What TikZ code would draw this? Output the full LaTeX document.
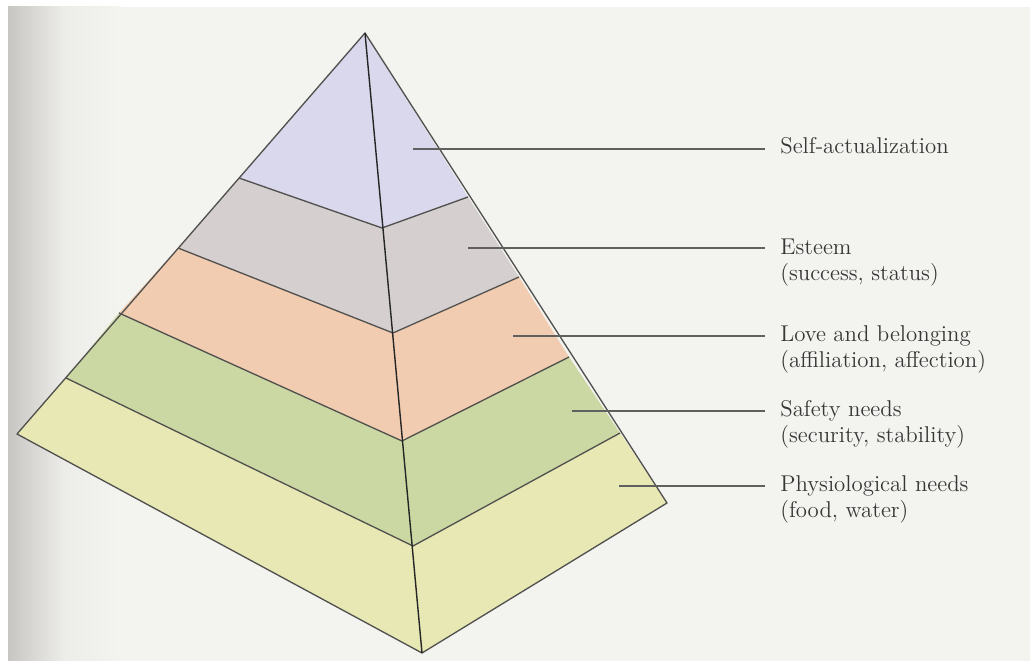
\documentclass[tikz,border=0pt]{standalone}
\usepackage[dvipsnames]{xcolor}
\usepackage{tikz}
\usetikzlibrary{calc}
\usetikzlibrary{positioning}

\definecolor{pageBg}{RGB}{243,243,240}
\definecolor{pageEdge}{RGB}{200,198,195}
\definecolor{lvlSelf}{RGB}{217,216,236}
\definecolor{lvlEsteem}{RGB}{214,207,207}
\definecolor{lvlLove}{RGB}{241,204,176}
\definecolor{lvlSafety}{RGB}{204,216,163}
\definecolor{lvlPhysio}{RGB}{232,232,180}
\definecolor{edgeGray}{RGB}{80,80,78}
\definecolor{textGray}{RGB}{55,55,55}

\tikzset{
  pyrEdge/.style={draw=edgeGray, line width=0.75pt, line join=round},
  leaderLine/.style={draw=gray!75!black, line width=0.85pt, shorten >=0.3cm},
  levelLabel/.style={
    anchor=base west, align=left, inner sep=0,
    font=\fontsize{13}{15.3}\selectfont, text=textGray
  }
}

\begin{document}
\begin{tikzpicture}[x=0.02cm, y=-0.02cm]

\useasboundingbox (0,0) rectangle (1030,661);
\fill[white] (0,0) rectangle (1030,661);
\fill[pageBg] (8,7) rectangle (1030,661);
\shade[left color=pageEdge, right color=pageBg, middle color=pageBg!85!pageEdge] (8,7) rectangle (120,661);

% corner points: left edge (L), front edge (F), right edge (R)
\coordinate (L0) at (365,33);
\coordinate (F0) at (365,33);
\coordinate (R0) at (365,33);
\coordinate (L1) at (239,178);
\coordinate (L2) at (178,248);
\coordinate (L3) at (119,313);
\coordinate (L4) at (66,378);
\coordinate (L5) at (17,434);
\coordinate (F1) at (382,228);
\coordinate (F2) at (393,333);
\coordinate (F3) at (402,441);
\coordinate (F4) at (413,546);
\coordinate (F5) at (422,653);
\coordinate (R1) at (468,197);
\coordinate (R2) at (519,277);
\coordinate (R3) at (569,357);
\coordinate (R4) at (620,433);
\coordinate (R5) at (667,503);

% --- layers ---
\foreach \i/\j/\col in {0/1/lvlSelf,1/2/lvlEsteem,2/3/lvlLove,3/4/lvlSafety,4/5/lvlPhysio} {
  \fill[\col] (L\i) -- (F\i) -- (R\i) -- (R\j) -- (F\j) -- (L\j) -- cycle;
}
\foreach \j in {1,...,4} {
  \draw[pyrEdge] (L\j) -- (F\j) -- (R\j);
}
\draw[pyrEdge] (L0) -- (L5) -- (F5) -- (R5) -- cycle;
\draw[draw=black!85, line width=0.8pt] (F0) -- (F5);

% --- labels ---
\coordinate (cSelf) at (413,149);
\coordinate (cEsteem) at (468,248);
\coordinate (cLove) at (513,336);
\coordinate (cSafety) at (572,411);
\coordinate (cPhysio) at (619,486);

% two-line labels sit on the baseline of their last line
\node[levelLabel] (txtSelf) at (780,154) {Self-actualization};
\node[levelLabel] (txtEsteem) at (780,281) {Esteem\\(success, status)};
\node[levelLabel] (txtLove) at (780,368) {Love and belonging\\(affiliation, affection)};
\node[levelLabel] (txtSafety) at (780,443) {Safety needs\\(security, stability)};
\node[levelLabel] (txtPhysio) at (780,518) {Physiological needs\\(food, water)};

\foreach \n in {Self,Esteem,Love,Safety,Physio} {
  \draw[leaderLine] (c\n) -- (c\n -| txt\n.west);
}

\end{tikzpicture}
\end{document}
